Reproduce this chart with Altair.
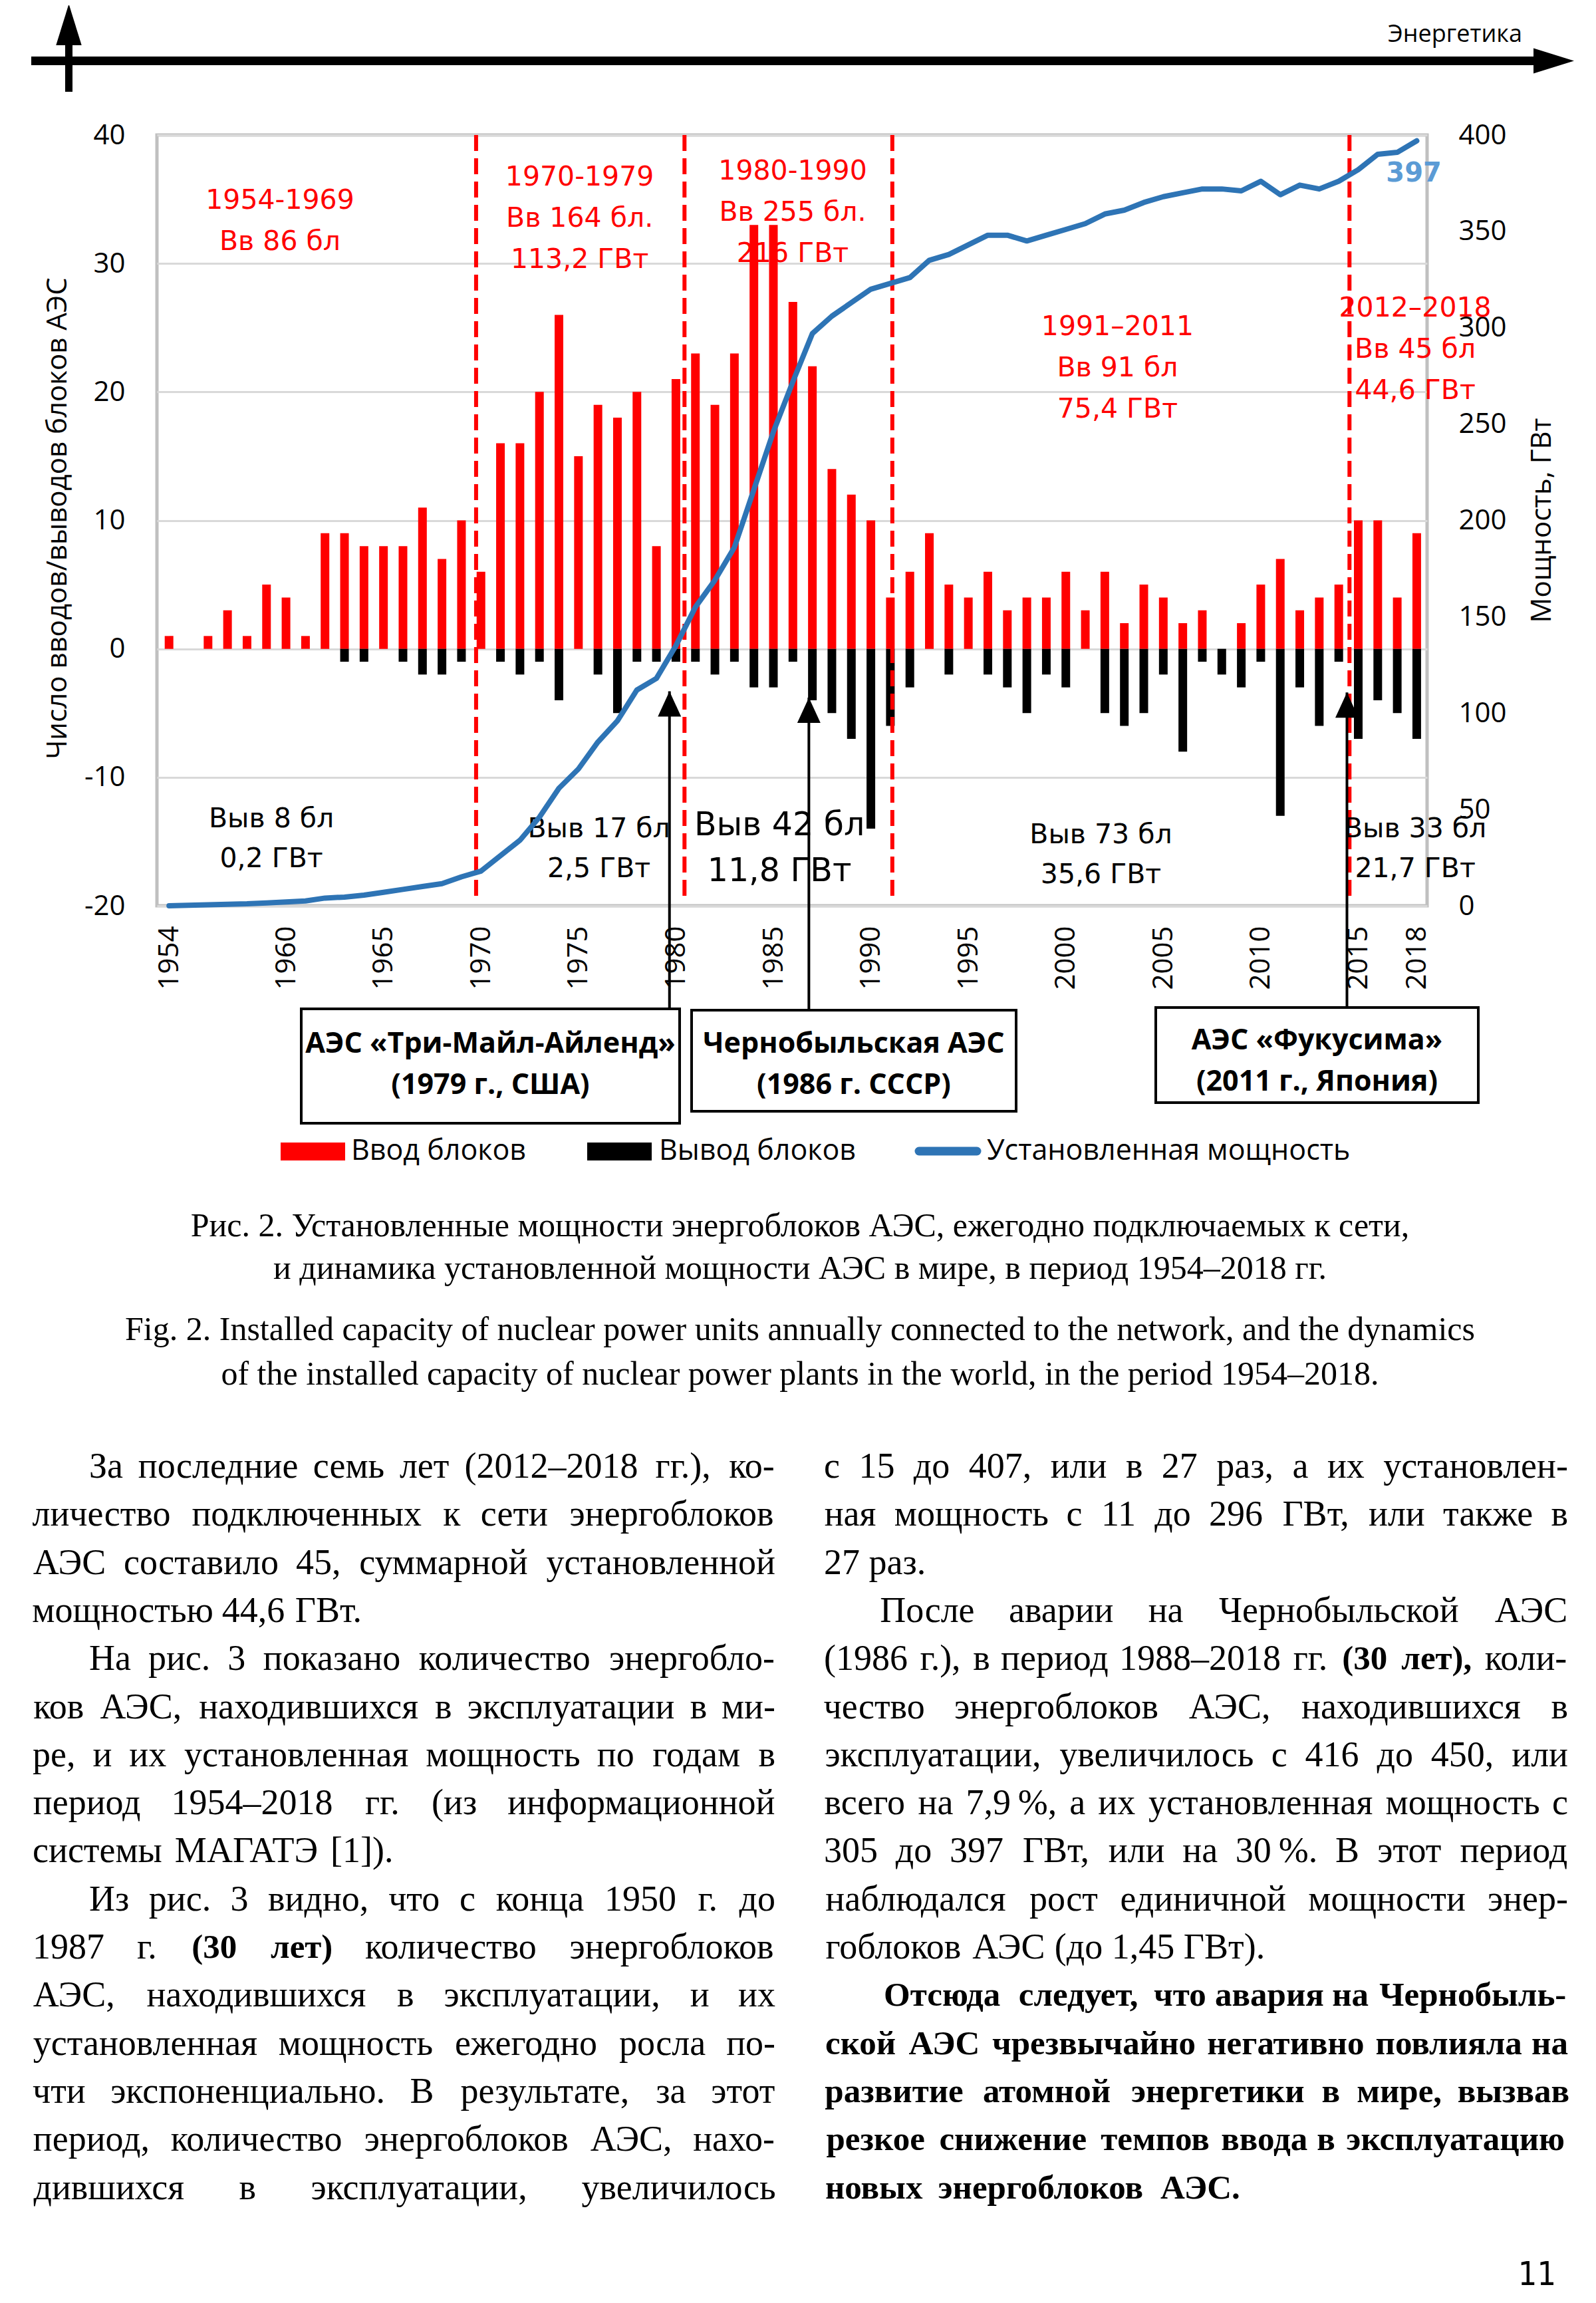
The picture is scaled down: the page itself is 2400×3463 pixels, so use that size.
import altair as alt
import pandas as pd

# ---------------- data ----------------
years = list(range(1954, 2019))
units_in = [1, 0, 1, 3, 1, 5, 4, 1, 9, 9, 8, 8, 8, 11, 7, 10,
            6, 16, 16, 20, 26, 15, 19, 18, 20, 8,
            21, 23, 19, 23, 33, 33, 27, 22, 14, 12, 10,
            4, 6, 9, 5, 4, 6, 3, 4, 4, 6, 3, 6, 2, 5, 4, 2, 3, 0, 2, 5, 7,
            3, 4, 5, 10, 10, 4, 9]
units_out = [0, 0, 0, 0, 0, 0, 0, 0, 0, 1, 1, 0, 1, 2, 2, 1,
             0, 1, 2, 1, 4, 0, 2, 5, 1, 1,
             1, 1, 2, 1, 3, 3, 1, 4, 5, 7, 14,
             6, 3, 0, 2, 0, 2, 3, 5, 2, 3, 0, 5, 6, 5, 2, 8, 1, 2, 3, 1, 13,
             3, 6, 1, 7, 4, 5, 7]
capacity = [0, 0.3, 0.5, 0.8, 1, 1.5, 2, 2.5, 4, 4.5, 5.5, 7, 8.5, 10, 11.5, 15,
            18, 26, 34, 46, 61, 71, 85, 96, 112, 118,
            135, 155, 169, 186, 216, 246, 272, 297, 306, 313, 320,
            323, 326, 335, 338, 343, 348, 348, 345, 348, 351, 354, 359, 361, 365, 368,
            370, 372, 372, 371, 376, 369,
            374, 372, 376, 382, 390, 391, 397]

period_bounds = [1969.75, 1980.44, 1991.1, 2014.55]
x_ticks = [1954, 1960, 1965, 1970, 1975, 1980, 1985, 1990, 1995, 2000, 2005, 2010, 2015, 2018]
left_ticks = [-20, -10, 0, 10, 20, 30, 40]
right_ticks = [0, 50, 100, 150, 200, 250, 300, 350, 400]

in_labels = [["1954-1969", "Вв 86 бл"],
             ["1970-1979", "Вв 164 бл.", "113,2 ГВт"],
             ["1980-1990", "Вв 255 бл.", "216 ГВт"],
             ["1991–2011", "Вв 91 бл", "75,4 ГВт"],
             ["2012–2018", "Вв 45 бл", "44,6 ГВт"]]
out_labels = [["Выв 8 бл", "0,2 ГВт"],
              ["Выв 17 бл", "2,5 ГВт"],
              ["Выв 42 бл", "11,8 ГВт"],
              ["Выв 73 бл", "35,6 ГВт"],
              ["Выв 33 бл", "21,7 ГВт"]]
last_value_label = "397"
accidents = [["АЭС «Три-Майл-Айленд»", "(1979 г., США)"],
             ["Чернобыльская АЭС", "(1986 г. СССР)"],
             ["АЭС «Фукусима»", "(2011 г., Япония)"]]
accident_x = [1979.67, 1986.82, 2014.42]
legend_labels = ["Ввод блоков", "Вывод блоков", "Установленная мощность"]
header_text = "Энергетика"
left_title = "Число вводов/выводов блоков АЭС"
right_title = "Мощность, ГВт"
captions = ["Рис. 2. Установленные мощности энергоблоков АЭС, ежегодно подключаемых к сети,",
            "и динамика установленной мощности АЭС в мире, в период 1954–2018 гг.",
            "Fig. 2. Installed capacity of nuclear power units annually connected to the network, and the dynamics",
            "of the installed capacity of nuclear power plants in the world, in the period 1954–2018."]
left_paragraphs = [
    ["За последние семь лет (2012–2018 гг.), ко-",
     "личество подключенных к сети энергоблоков",
     "АЭС составило 45, суммарной установленной",
     "мощностью 44,6 ГВт."],
    ["На рис. 3 показано количество энергобло-",
     "ков АЭС, находившихся в эксплуатации в ми-",
     "ре, и их установленная мощность по годам в",
     "период 1954–2018 гг. (из информационной",
     "системы МАГАТЭ [1])."],
    ["Из рис. 3 видно, что с конца 1950 г. до",
     "1987 г. *(30 лет)* количество энергоблоков",
     "АЭС, находившихся в эксплуатации, и их",
     "установленная мощность ежегодно росла по-",
     "чти экспоненциально. В результате, за этот",
     "период, количество энергоблоков АЭС, нахо-",
     "дившихся в эксплуатации, увеличилось"],
]
right_paragraphs = [
    ["с 15 до 407, или в 27 раз, а их установлен-",
     "ная мощность с 11 до 296 ГВт, или также в",
     "27 раз."],
    ["После аварии на Чернобыльской АЭС",
     "(1986 г.), в период 1988–2018 гг. *(30 лет),* коли-",
     "чество энергоблоков АЭС, находившихся в",
     "эксплуатации, увеличилось с 416 до 450, или",
     "всего на 7,9\u2009%, а их установленная мощность с",
     "305 до 397 ГВт, или на 30\u2009%. В этот период",
     "наблюдался рост единичной мощности энер-",
     "гоблоков АЭС (до 1,45 ГВт)."],
    ["Отсюда следует, что авария на Чернобыль-",
     "ской АЭС чрезвычайно негативно повлияла на",
     "развитие атомной энергетики в мире, вызвав",
     "резкое снижение темпов ввода в эксплуатацию",
     "новых энергоблоков АЭС."],
]
page_number = "11"

# ---------------- styles / layout ----------------
SANS = "Open Sans"
ANN = "DejaVu Sans"
SERIF = "Liberation Serif"
RED = "#ff0000"
BLUE = "#2e74b5"
W, H = 1910, 1159
X0, X1 = 1953.55, 2018.36

xscale = alt.Scale(domain=[X0, X1], nice=False, zero=False)
yscale = alt.Scale(domain=[-20, 40], nice=False, zero=False)
cscale = alt.Scale(domain=[0, 400], nice=False, zero=False)
pxs = alt.Scale(domain=[0, W], range=[0, W], nice=False, zero=False)
pys = alt.Scale(domain=[0, H], range=[0, H], nice=False, zero=False)

df = pd.DataFrame({"year": years, "vin": units_in,
                   "vout": [-v for v in units_out], "cap": capacity,
                   "zero": [0] * len(years)})

x_axis = alt.Axis(values=x_ticks, format="d", labelAngle=270, labelAlign="right",
                  labelBaseline="middle", labelPadding=30, ticks=False, domain=False,
                  grid=False, title=None, labelFont=SANS, labelFontSize=42,
                  labelColor="black", labelOverlap=False, labelFlush=False)
y_axis = alt.Axis(values=left_ticks, labelExpr="'' + datum.value", ticks=False,
                  domain=False, grid=True, gridColor="#d9d9d9", gridWidth=3,
                  labelPadding=48, labelFont=SANS, labelFontSize=42, labelColor="black",
                  labelFlush=False, labelOverlap=False,
                  title=left_title, titleFont=SANS, titleFontSize=42,
                  titleFontWeight="normal", titleColor="black", titleAngle=270,
                  titleX=-150, titleY=576, titleAlign="center", titleBaseline="middle")
r_axis = alt.Axis(orient="right", values=right_ticks, ticks=False, domain=False,
                  grid=False, labelAlign="left", labelPadding=47, labelFont=SANS,
                  labelFontSize=42, labelColor="black", labelFlush=False,
                  labelOverlap=False, title=right_title, titleFont=SANS,
                  titleFontSize=42, titleFontWeight="normal", titleColor="black",
                  titleAngle=270, titleX=172, titleY=579, titleAlign="center",
                  titleBaseline="middle")


# every data layer carries the same axis definition, so that merged axes stay enabled
def XD(f):
    return alt.X(f + ":Q", scale=xscale, axis=x_axis)


def YD(f):
    return alt.Y(f + ":Q", scale=yscale, axis=y_axis)


def PX(f):
    return alt.X(f + ":Q", scale=pxs, axis=None)


def PY(f):
    return alt.Y(f + ":Q", scale=pys, axis=None)


bars_in = alt.Chart(df).mark_bar(color=RED, size=13).encode(
    x=XD("year"), y=YD("vin"), y2="zero:Q")
bars_out = alt.Chart(df).mark_bar(color="black", size=13).encode(
    x=XD("year"), y=YD("vout"), y2="zero:Q")

dashed = alt.Chart(pd.DataFrame({"x": period_bounds, "top": [40] * 4, "bot": [-19.5] * 4})).mark_rule(
    color=RED, strokeWidth=6, strokeDash=[24, 11]).encode(
    x=XD("x"), y=YD("top"), y2="bot:Q")

# annotation texts (data coordinates)
in_pos = [(1959.69, 34.87), (1975.06, 36.69), (1985.99, 37.15), (2002.65, 25.04), (2017.92, 26.49)]
out_pos = [(1959.25, -13.27), (1976.05, -14.05), (1985.31, -13.73), (2001.80, -14.51), (2017.92, -14.05)]
ann = []
for (x, y), lines in zip(in_pos, in_labels):
    for i, t in enumerate(lines):
        ann.append({"x": x, "y": y - 3.2 * i, "t": t, "col": RED, "fs": 41})
for k, ((x, y), lines) in enumerate(zip(out_pos, out_labels)):
    big = k == 2
    for i, t in enumerate(lines):
        ann.append({"x": x, "y": y - (3.6 if big else 3.1) * i, "t": t,
                    "col": "black", "fs": 49 if big else 41})
ann_layer = alt.Chart(pd.DataFrame(ann)).mark_text(
    font=ANN, align="center", baseline="middle").encode(
    x=XD("x"), y=YD("y"), text="t:N",
    color=alt.Color("col:N", scale=None), size=alt.Size("fs:Q", scale=None))
lbl397 = alt.Chart(pd.DataFrame({"x": [2017.85], "y": [37.0], "t": [last_value_label]})).mark_text(
    font=ANN, fontWeight="bold", fontSize=40, color="#5b9bd5",
    align="center", baseline="middle").encode(x=XD("x"), y=YD("y"), text="t:N")

# accident arrows (data coordinates)
arr = pd.DataFrame({"x": accident_x, "tip": [-3.3, -3.8, -3.4], "base": [-28.0, -28.1, -27.9]})
shafts = alt.Chart(arr).mark_rule(color="black", strokeWidth=4).encode(
    x=XD("x"), y=YD("tip"), y2="base:Q")
heads = alt.Chart(arr).mark_point(shape="M0,0L0.46,1L-0.46,1Z", size=5776, filled=True,
                                  color="black", opacity=1, strokeWidth=0).encode(
    x=XD("x"), y=YD("tip"))

data_group = alt.layer(bars_in, bars_out, dashed, ann_layer, lbl397, shafts, heads)

line = alt.Chart(df).mark_line(color=BLUE, strokeWidth=8, strokeJoin="round",
                               strokeCap="round").encode(
    x=XD("year"), y=alt.Y("cap:Q", scale=cscale, axis=r_axis))

plot = alt.layer(data_group, line).resolve_scale(y="independent")

# ---------------- page elements (pixel layout) ----------------
boxes = [(217, 786, 1314, 1486), (804, 1292, 1316, 1468), (1502, 1987, 1312, 1455)]
box_text_y = [(1367, 1429), (1367, 1429), (1362, 1424)]
bdf = pd.DataFrame([{"x1": b[0], "x2": b[1], "y1": b[2], "y2": b[3]} for b in boxes])
box_layer = alt.Chart(bdf).mark_rect(fill="white", stroke="black", strokeWidth=4).encode(
    x=PX("x1"), x2="x2:Q", y=PY("y1"), y2="y2:Q")
btxt = []
for b, ty, lines in zip(boxes, box_text_y, accidents):
    for yy, t in zip(ty, lines):
        btxt.append({"x": (b[0] + b[1]) / 2, "y": yy, "t": t})
box_text = alt.Chart(pd.DataFrame(btxt)).mark_text(
    font=SANS, fontWeight="bold", fontSize=43, align="center", baseline="middle",
    color="black").encode(x=PX("x"), y=PY("y"), text="t:N")

leg_rects = pd.DataFrame({"x1": [186, 647], "x2": [283, 744], "y1": [1515, 1515],
                          "y2": [1542, 1542], "c": [RED, "black"]})
leg_rect_layer = alt.Chart(leg_rects).mark_rect().encode(
    x=PX("x1"), x2="x2:Q", y=PY("y1"), y2="y2:Q", color=alt.Color("c:N", scale=None))
leg_line = alt.Chart(pd.DataFrame({"x1": [1146], "x2": [1233], "y": [1528]})).mark_rule(
    color=BLUE, strokeWidth=13, strokeCap="round").encode(x=PX("x1"), x2="x2:Q", y=PY("y"))
leg_text = alt.Chart(pd.DataFrame({"x": [292, 755, 1248], "y": [1528] * 3, "t": legend_labels})).mark_text(
    font=SANS, fontSize=43, align="left", baseline="middle", color="black").encode(
    x=PX("x"), y=PY("y"), text="t:N")

hbar = alt.Chart(pd.DataFrame({"x1": [-189, -132.5], "x2": [2072, -132.5],
                               "y1": [-111.5, -136], "y2": [-111.5, -65],
                               "w": [13, 11]})).mark_rule(color="black").encode(
    x=PX("x1"), x2="x2:Q", y=PY("y1"), y2="y2:Q",
    strokeWidth=alt.StrokeWidth("w:Q", scale=None))
hhead_r = alt.Chart(pd.DataFrame({"x": [2131], "y": [-111.5]})).mark_point(
    shape="M0,0L-1,-0.31L-1,0.31Z", size=14884, filled=True, color="black",
    opacity=1, strokeWidth=0).encode(x=PX("x"), y=PY("y"))
hhead_u = alt.Chart(pd.DataFrame({"x": [-132.5], "y": [-197]})).mark_point(
    shape="M0,0L0.31,1L-0.31,1Z", size=15376, filled=True, color="black",
    opacity=1, strokeWidth=0).encode(x=PX("x"), y=PY("y"))
htext = alt.Chart(pd.DataFrame({"x": [1952], "y": [-151], "t": [header_text]})).mark_text(
    font=SANS, fontSize=36, align="center", baseline="middle", color="black").encode(
    x=PX("x"), y=PY("y"), text="t:N")

cap_df = pd.DataFrame({"x": [967] * 4, "y": [1641, 1705, 1797, 1864], "t": captions})
cap_layer = alt.Chart(cap_df).mark_text(font=SERIF, fontSize=50, align="center",
                                        baseline="middle", color="black").encode(
    x=PX("x"), y=PY("y"), text="t:N")

# body text: justified by word placement
lower = "абвгдеёжзийклмнопрстуфхцчшщъыьэюя"
lw = [444, 500, 472, 410, 509, 444, 444, 691, 395, 535, 535, 486, 499, 633, 535, 500, 535,
      500, 444, 437, 500, 648, 500, 535, 503, 770, 770, 517, 672, 456, 429, 747, 486]
upper = "АБВГДЕЁЖЗИЙКЛМНОПРСТУФХЦЧШЩЪЫЬЭЮЯ"
uw = [722, 574, 667, 578, 682, 611, 611, 896, 501, 722, 722, 667, 667, 889, 722, 722, 722,
      556, 667, 611, 636, 765, 722, 730, 668, 1000, 1000, 707, 889, 574, 667, 1012, 661]
CW = dict(zip(lower, lw))
CW.update(dict(zip(upper, uw)))
CW.update({c: 500 for c in "0123456789"})
CW.update({" ": 250, ".": 250, ",": 250, "(": 333, ")": 333, "[": 333, "]": 333,
           "–": 500, "-": 333, "%": 833, "\u2009": 200, ":": 278})
BFS = 54
BOLD_FS = 51


def est(word, bold):
    base = sum(CW.get(c, 500) for c in word) / 1000
    return base * BOLD_FS * 1.10 if bold else base * BFS


def tokens(line, all_bold):
    out, bold = [], False
    for tok in line.split(" "):
        if tok.startswith("*"):
            bold, tok = True, tok[1:]
        end = tok.endswith("*")
        if end:
            tok = tok[:-1]
        out.append((tok, bold or all_bold))
        if end:
            bold = False
    return out


body = []


def lay_column(paragraphs, flags, left, width, y0, step):
    row = 0
    for lines, (indent, just_last, all_bold) in zip(paragraphs, flags):
        for i, ln in enumerate(lines):
            toks = tokens(ln, all_bold)
            L = left + (85 if (indent and i == 0) else 0)
            Wd = width - (L - left)
            ws = [est(t, b) for t, b in toks]
            justify = (i < len(lines) - 1) or just_last
            if justify and len(toks) > 1:
                gap = (Wd - sum(ws)) / (len(toks) - 1)
            else:
                gap = 0.25 * BFS
            x = L
            for (t, b), w in zip(toks, ws):
                body.append({"w": t, "x": x + w / 2, "y": y0 + step * row, "b": b})
                x += w + gap
            row += 1


lay_column(left_paragraphs, [(True, False, False), (True, False, False), (True, True, False)],
           -187, 1117, 2003, 72.3)
lay_column(right_paragraphs, [(False, False, False), (True, False, False), (True, False, True)],
           1003, 1119, 2003, 72.3)
bdy = pd.DataFrame(body)
body_norm = alt.Chart(bdy[~bdy["b"]]).mark_text(
    font=SERIF, fontSize=BFS, align="center", baseline="middle", color="black").encode(
    x=PX("x"), y=PY("y"), text="w:N")
body_bold = alt.Chart(bdy[bdy["b"]]).mark_text(
    font=SERIF, fontSize=BOLD_FS, fontWeight="bold", align="center", baseline="middle",
    color="black").encode(x=PX("x"), y=PY("y"), text="w:N")
pnum = alt.Chart(pd.DataFrame({"x": [2104], "y": [3218], "t": [page_number]})).mark_text(
    font="Liberation Sans Narrow, DejaVu Sans Condensed, sans-serif", fontSize=50,
    align="right", baseline="middle", color="black").encode(x=PX("x"), y=PY("y"), text="t:N")

page = alt.layer(box_layer, box_text, leg_rect_layer, leg_line, leg_text,
                 hbar, hhead_r, hhead_u, htext, cap_layer, body_norm, body_bold, pnum)

chart = alt.layer(plot, page).resolve_scale(x="independent", y="independent").properties(
    width=W, height=H,
    padding={"left": 228, "top": 195, "right": 240, "bottom": 2086},
    autosize=alt.AutoSizeParams(type="none"),
    background="white",
).configure_view(stroke="#c0c0c0", strokeWidth=5)

chart.save("out.html", embed_options={"renderer": "svg", "actions": False})
